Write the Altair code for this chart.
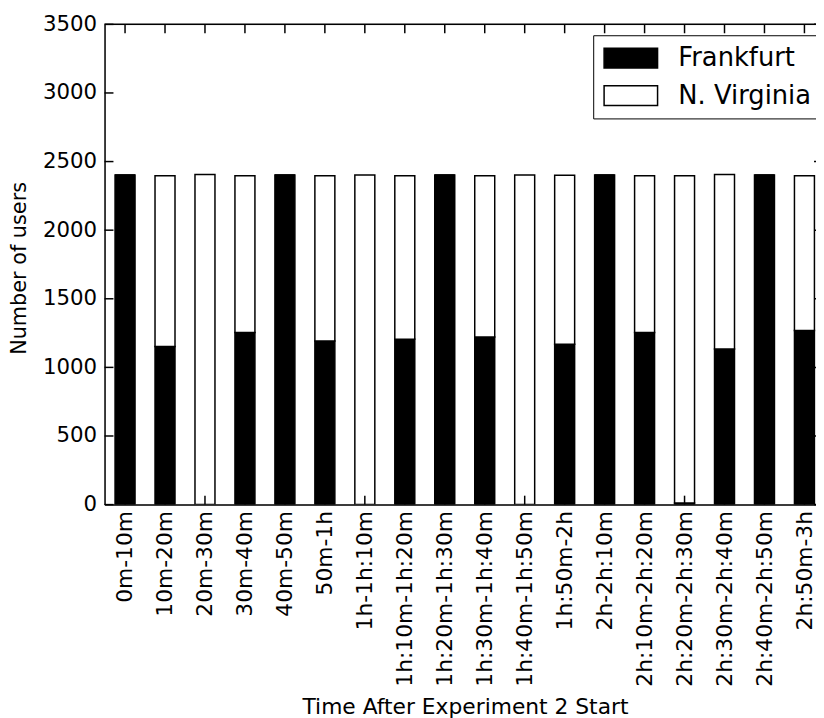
import altair as alt
import pandas as pd

categories = ['0m-10m', '10m-20m', '20m-30m', '30m-40m', '40m-50m', '50m-1h',
              '1h-1h:10m', '1h:10m-1h:20m', '1h:20m-1h:30m', '1h:30m-1h:40m',
              '1h:40m-1h:50m', '1h:50m-2h', '2h-2h:10m', '2h:10m-2h:20m',
              '2h:20m-2h:30m', '2h:30m-2h:40m', '2h:40m-2h:50m', '2h:50m-3h']
frankfurt = [2402, 1153, 0, 1255, 2402, 1192, 0, 1206, 2402, 1221, 0, 1168,
             2402, 1255, 12, 1134, 2402, 1269]
virginia = [0, 1243, 2406, 1141, 0, 1204, 2402, 1190, 0, 1175, 2402, 1232,
            0, 1141, 2384, 1272, 0, 1127]
regions = ['Frankfurt', 'N. Virginia']
y_ticks = [0, 500, 1000, 1500, 2000, 2500, 3000, 3500]

rows = []
for i, c in enumerate(categories):
    rows.append(dict(idx=i, cat=c, region=regions[0], lo=0, hi=frankfurt[i]))
    rows.append(dict(idx=i, cat=c, region=regions[1], lo=frankfurt[i],
                     hi=frankfurt[i] + virginia[i]))
df = pd.DataFrame(rows)

W = 718.5
H = 485
XMIN = -0.513
XMAX = XMIN + W / 40.36
FONT = 'DejaVu Sans'

xscale = alt.Scale(domain=[XMIN, XMAX], nice=False, zero=False)
yscale = alt.Scale(domain=[0, 3500], nice=False)

label_expr = '[' + ','.join("'%s'" % c for c in categories) + '][datum.value]'

xaxis = alt.Axis(values=list(range(len(categories))), labelExpr=label_expr,
                 labelAngle=270, labelAlign='right', labelBaseline='middle',
                 labelFontSize=22, labelPadding=6, labelColor='black',
                 ticks=False, grid=False, domain=True, domainColor='black',
                 domainWidth=1.5, labelOverlap=False, labelFlush=False,
                 title='Time After Experiment 2 Start', titleFontSize=22,
                 titleFontWeight='normal', titleColor='black',
                 titleX=364, titleY=211, titleBaseline='alphabetic',
                 titleAlign='center', titleAnchor='start')
yaxis = alt.Axis(values=y_ticks, format='d', labelFontSize=21.5,
                 labelPadding=8, labelColor='black', ticks=False, grid=False,
                 domain=True, domainColor='black', domainWidth=1.5,
                 labelFlush=False, labelOverlap=False,
                 title='Number of users', titleFontSize=21,
                 titleFontWeight='normal', titleColor='black',
                 titleAngle=270, titleX=-80, titleY=246,
                 titleBaseline='alphabetic', titleAlign='center',
                 titleAnchor='start')

bars = alt.Chart(df).transform_calculate(
    x0='datum.idx - 0.25', x1='datum.idx + 0.25'
).mark_bar(stroke='black', strokeWidth=1.5, clip=True, opacity=1).encode(
    x=alt.X('x0:Q', scale=xscale, axis=xaxis),
    x2='x1:Q',
    y=alt.Y('lo:Q', scale=yscale, axis=yaxis),
    y2='hi:Q',
    fill=alt.Fill('region:N',
                  scale=alt.Scale(domain=regions, range=['black', 'white']),
                  legend=alt.Legend(title=None, orient='none', legendX=493.5, legendY=11,
                                    symbolType='M-1.2,-1L4.2,-1L4.2,1L-1.2,1Z',
                                    symbolSize=400, symbolStrokeColor='black',
                                    symbolStrokeWidth=1.5, symbolOpacity=1,
                                    labelFontSize=26, labelOffset=50, labelLimit=400,
                                    labelColor='black', rowPadding=12, padding=10,
                                    strokeColor='black', fillColor='white',
                                    cornerRadius=0)),
    order=alt.Order('lo:Q')
)

ytick_df = pd.DataFrame({'v': y_ticks})
xtick_df = pd.DataFrame({'i': list(range(len(categories)))})

left_ticks = alt.Chart(ytick_df).mark_rule(color='black', strokeWidth=1.5).encode(
    y=alt.Y('v:Q', scale=yscale, axis=yaxis), x=alt.value(0), x2=alt.value(9))
right_ticks = alt.Chart(ytick_df).mark_rule(color='black', strokeWidth=1.5).encode(
    y=alt.Y('v:Q', scale=yscale, axis=yaxis), x=alt.value(W - 2), x2=alt.value(W))
top_ticks = alt.Chart(xtick_df).mark_rule(color='black', strokeWidth=1.5).encode(
    x=alt.X('i:Q', scale=xscale, axis=xaxis), y=alt.value(0), y2=alt.value(9))
bottom_ticks = alt.Chart(xtick_df).mark_rule(color='black', strokeWidth=1.5).encode(
    x=alt.X('i:Q', scale=xscale, axis=xaxis), y=alt.value(H - 9), y2=alt.value(H))
top_spine = alt.Chart(ytick_df.head(1)).mark_rule(color='black', strokeWidth=1.5).encode(
    x=alt.value(0), x2=alt.value(W), y=alt.value(0))

chart = alt.layer(bars, left_ticks, right_ticks, top_ticks, bottom_ticks, top_spine).properties(
    width=W, height=H,
    autosize=alt.AutoSizeParams(type='none'),
    padding={'left': 97.5, 'top': 13, 'right': 0, 'bottom': 212},
).configure_view(stroke=None).configure(font=FONT, background='white')

chart.save('out.html', embed_options={'renderer': 'svg', 'actions': False})
